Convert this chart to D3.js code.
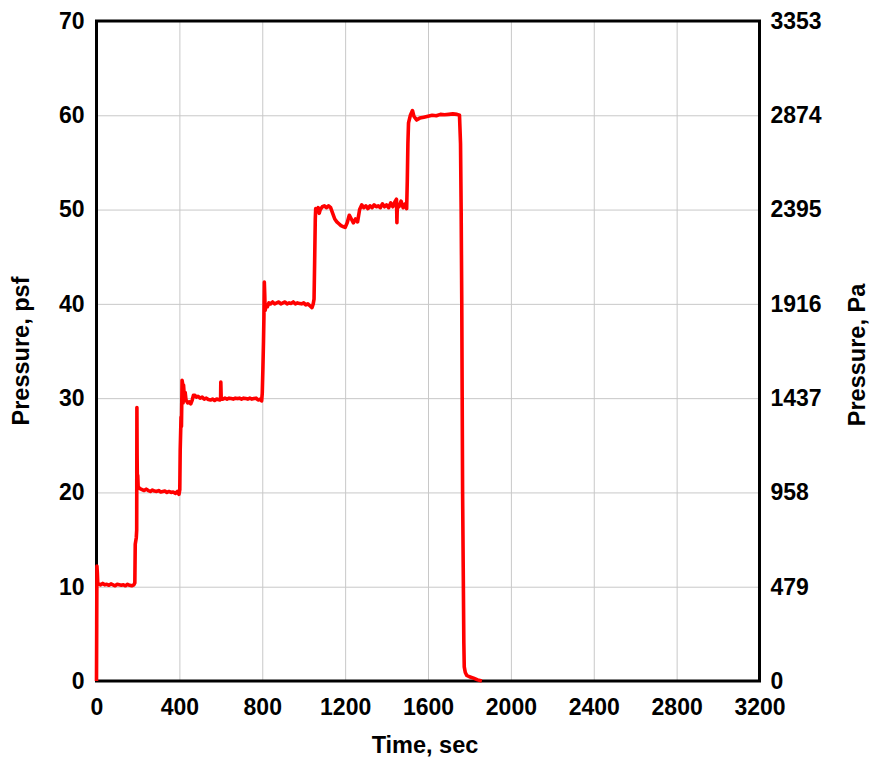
<!DOCTYPE html>
<html>
<head>
<meta charset="utf-8">
<script src="https://cdn.jsdelivr.net/npm/d3@7"></script>
<style>
  body { margin: 0; background: #fff; }
  text { font-family: "Liberation Sans", Arial, Helvetica, sans-serif; font-weight: bold; }
</style>
</head>
<body>
<div id="chart"></div>
<script>
//Chart values
const timeTicks = [0, 400, 800, 1200, 1600, 2000, 2400, 2800, 3200];
const psfTicks = [0, 10, 20, 30, 40, 50, 60, 70];
const paLabels = ['0', '479', '958', '1437', '1916', '2395', '2874', '3353'];

//time (sec) and pressure (psf) of the recorded trace
const timeSec = [
	0, 1, 2, 4, 6, 10, 20, 30, 40, 50, 60, 70, 80, 90, 100, 110, 120, 130, 140, 150, 160, 170, 180, 185,
	187, 192, 194, 195, 196, 197, 199, 201, 210, 220, 230, 240, 250, 260, 270, 280, 290, 300, 310, 320,
	330, 340, 350, 360, 370, 380, 390, 398, 402, 404, 408, 410, 413, 416, 418, 420, 424, 428, 432, 440,
	448, 455, 462, 468, 475, 482, 490, 500, 510, 520, 530, 540, 550, 560, 570, 580, 595, 599, 600, 602,
	610, 620, 630, 640, 650, 660, 670, 680, 690, 700, 710, 720, 730, 740, 750, 760, 770, 780, 790, 797,
	800, 803, 806, 808, 810, 812, 814, 818, 825, 832, 840, 850, 860, 870, 880, 890, 900, 910, 920, 930,
	940, 950, 960, 970, 980, 990, 1000, 1010, 1020, 1030, 1040, 1046, 1050, 1053, 1056, 1058, 1065, 1070,
	1075, 1080, 1090, 1100, 1110, 1120, 1130, 1140, 1150, 1160, 1170, 1180, 1190, 1200, 1210, 1220, 1230,
	1240, 1250, 1260, 1270, 1280, 1290, 1300, 1310, 1320, 1330, 1340, 1350, 1360, 1370, 1380, 1390, 1400,
	1410, 1420, 1430, 1440, 1448, 1450, 1452, 1460, 1470, 1480, 1490, 1497, 1500, 1503, 1506, 1515, 1525,
	1532, 1545, 1560, 1580, 1600, 1620, 1640, 1660, 1680, 1700, 1720, 1740, 1752, 1757, 1760, 1763, 1765,
	1767, 1770, 1773, 1775, 1780, 1787, 1800, 1820, 1840, 1860
];
const pressurePsf = [
	0, 6, 12.2, 11.5, 10.4, 10.3, 10.2, 10.35, 10.2, 10.25, 10.15, 10.3, 10.2, 10.1, 10.25, 10.2, 10.15, 10.2, 10.1, 10.25, 10.15, 10.1, 10.2, 10.4,
	14.5, 15.2, 16, 29, 24, 21.7, 21.8, 20.6, 20.4, 20.3, 20.2, 20.35, 20.2, 20.1, 20.25, 20.15, 20.1, 20.2, 20.05, 20.1,
	20.15, 20.0, 20.1, 20.0, 20.05, 19.9, 20.1, 19.8, 20.3, 24.5, 28, 27, 31.9, 31.5, 29.5, 31.4, 30.2, 30.6, 29.8, 29.5,
	29.6, 29.4, 29.8, 30.3, 30.3, 30.1, 30.2, 30.0, 30.1, 29.9, 30.0, 29.85, 29.8, 29.9, 29.75, 29.9, 29.8, 29.9, 31.7, 29.9,
	29.9, 30.0, 29.9, 30.0, 29.95, 29.9, 30.0, 29.95, 30.0, 29.9, 30.0, 29.95, 29.9, 30.0, 29.9, 29.95, 30.0, 29.8, 29.9, 29.7,
	30.5, 33, 36, 38.5, 42.3, 41, 39.3, 39.8, 39.7, 40.1, 40.0, 40.2, 40.0, 40.1, 40.2, 40.0, 40.1, 40.2, 40.0, 40.1,
	40.05, 40.2, 40.0, 40.1, 40.05, 40.0, 40.1, 39.9, 40.0, 39.8, 39.6, 40.0, 40.5, 44.6, 49, 50.1, 49.9, 50.2,
	49.6, 50.0, 50.3, 50.4, 50.2, 50.4, 50.2, 49.6, 49.0, 48.7, 48.5, 48.3, 48.2, 48.1, 48.6, 49.4, 49.0,
	48.6, 49.0, 48.7, 50.0, 50.5, 50.2, 50.4, 50.1, 50.4, 50.2, 50.5, 50.3, 50.4, 50.2, 50.6, 50.3, 50.5,
	50.2, 50.7, 50.3, 50.8, 51.1, 48.6, 50.5, 50.3, 50.9, 50.2, 50.6, 50.1, 53, 57, 59.2, 60.0, 60.5,
	59.9, 59.5, 59.7, 59.8, 59.9, 60.0, 59.95, 60.1, 60.05, 60.1, 60.15, 60.1, 60.0, 57, 50, 40, 30,
	20, 12, 4, 1.5, 0.9, 0.6, 0.45, 0.3, 0.12, 0
];

const series = timeSec.map((t, i) => ({t, p: pressurePsf[i]}));

//Prepare DOM canvas
const W = 873, H = 761;
const mLeft = 96.5, mRight = 759.5, mTop = 21, mBottom = 681;
const svg = d3.select('#chart').append('svg').attr('width', W).attr('height', H);

const x = d3.scaleLinear().domain([0, 3200]).range([mLeft, mRight]);
const y = d3.scaleLinear().domain([0, 70]).range([mBottom, mTop]);
const y2 = d3.scaleLinear().domain([0, 7]).range([mBottom, mTop]);

//Gridlines
svg.append('g').attr('class', 'grid')
	.attr('transform', `translate(0,${mBottom})`)
	.call(d3.axisBottom(x).tickValues(timeTicks).tickSize(-(mBottom - mTop)).tickFormat(''))
	.call(g => g.select('.domain').remove())
	.call(g => g.selectAll('line').attr('stroke', '#c8c8c8').attr('stroke-width', 1));
svg.append('g').attr('class', 'grid')
	.attr('transform', `translate(${mLeft},0)`)
	.call(d3.axisLeft(y).tickValues(psfTicks).tickSize(-(mRight - mLeft)).tickFormat(''))
	.call(g => g.select('.domain').remove())
	.call(g => g.selectAll('line').attr('stroke', '#c8c8c8').attr('stroke-width', 1));

//Frame
svg.append('rect')
	.attr('x', mLeft).attr('y', mTop)
	.attr('width', mRight - mLeft).attr('height', mBottom - mTop)
	.attr('fill', 'none').attr('stroke', '#000').attr('stroke-width', 3);

//Tick labels
const styleLabels = g => {
	g.select('.domain').remove();
	g.selectAll('line').remove();
	g.selectAll('text').attr('fill', '#000').style('font-size', '23px');
};
svg.append('g')
	.attr('transform', `translate(0,${mBottom})`)
	.call(d3.axisBottom(x).tickValues(timeTicks).tickSize(0).tickPadding(18).tickFormat(d3.format('d')))
	.call(styleLabels);
svg.append('g')
	.attr('transform', `translate(${mLeft},0)`)
	.call(d3.axisLeft(y).tickValues(psfTicks).tickSize(0).tickPadding(12).tickFormat(d3.format('d')))
	.call(styleLabels);
svg.append('g')
	.attr('transform', `translate(${mRight},0)`)
	.call(d3.axisRight(y2).tickValues(d3.range(8)).tickSize(0).tickPadding(11).tickFormat(i => paLabels[i]))
	.call(styleLabels);

//Pressure trace
const line = d3.line().x(d => x(d.t)).y(d => y(d.p));
svg.append('path')
	.datum(series)
	.attr('d', line)
	.attr('fill', 'none')
	.attr('stroke', '#ff0000')
	.attr('stroke-width', 3.6)
	.attr('stroke-linejoin', 'round');

//Axis titles
svg.append('text')
	.attr('x', 425).attr('y', 753)
	.attr('text-anchor', 'middle')
	.style('font-size', '23.5px')
	.text('Time, sec');
svg.append('text')
	.attr('transform', `translate(28.5,351) rotate(-90)`)
	.attr('text-anchor', 'middle')
	.style('font-size', '23.5px')
	.text('Pressure, psf');
svg.append('text')
	.attr('transform', `translate(865,355) rotate(-90)`)
	.attr('text-anchor', 'middle')
	.style('font-size', '23.5px')
	.text('Pressure, Pa');
</script>
</body>
</html>
